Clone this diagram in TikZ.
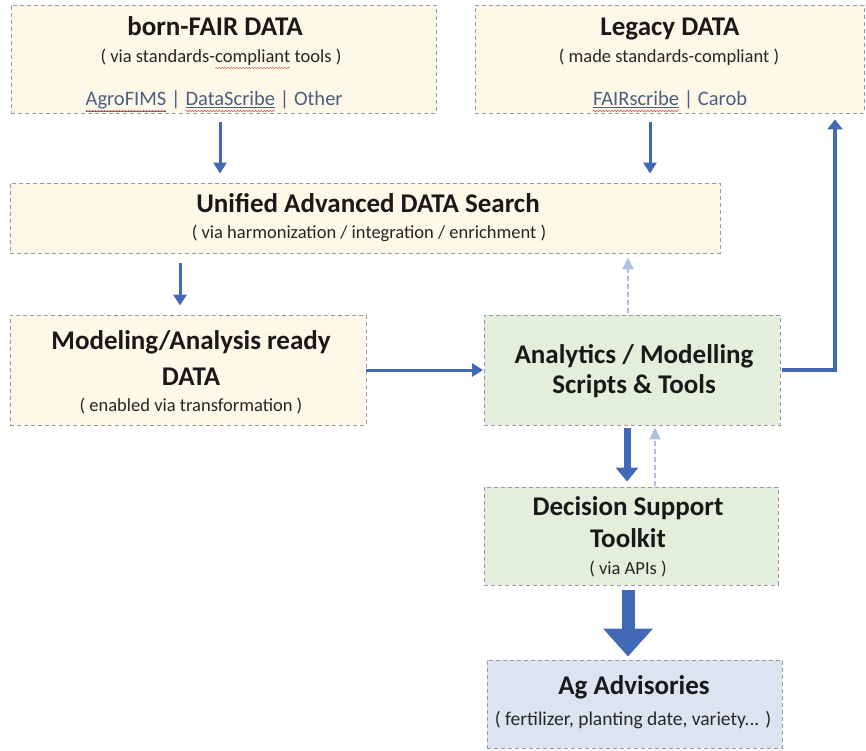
\documentclass[tikz,border=0pt]{standalone}
\usepackage{fontspec}
\setmainfont{Carlito}
\usetikzlibrary{arrows.meta,decorations.pathmorphing}
\definecolor{beige}{HTML}{FEF8E8}
\definecolor{greenbox}{HTML}{E3EFDA}
\definecolor{bluebox}{HTML}{DCE4F2}
\definecolor{bordergray}{HTML}{9A9A9A}
\definecolor{arrowblue}{HTML}{4169B8}
\definecolor{lightarrow}{HTML}{AFC0E0}
\definecolor{linkcol}{HTML}{4A5F82}
\definecolor{spellred}{HTML}{D9534F}
\newcommand\spellwave[1]{\tikz[baseline=(w.base)]{\node[inner sep=0pt, outer sep=0pt](w){#1};\draw[spellred, line width=0.5pt, decorate, decoration={snake, amplitude=0.7pt, segment length=3pt}] ([yshift=-5pt]w.base west) -- ([yshift=-5pt]w.base east);}}
\newcommand\linkword[1]{\spellwave{\underline{#1}}}
\tikzset{
  boxbase/.style={draw=bordergray, dash pattern=on 4pt off 3pt, line width=0.9pt, inner sep=0pt},
  beigebox/.style={boxbase, fill=beige},
  greenbx/.style={boxbase, fill=greenbox},
  bluebx/.style={boxbase, fill=bluebox},
  titletext/.style={font=\bfseries\fontsize{27}{30}\selectfont, text=black!90, inner sep=0pt, anchor=base},
  subtext/.style={font=\fontsize{18.5}{21}\selectfont, text=black!85, inner sep=0pt, anchor=base},
  linktext/.style={font=\fontsize{20.5}{23}\selectfont, text=linkcol, inner sep=0pt, anchor=base},
  flow/.style={draw=arrowblue, line width=3pt, -{Triangle[width=13pt,length=11pt]}},
  back/.style={draw=lightarrow, line width=1.8pt, dash pattern=on 5pt off 3pt, -{Triangle[width=11pt,length=12pt]}},
  thickflow/.style={draw=arrowblue, line width=7pt, -{Triangle[width=22pt,length=14pt]}},
  hugeflow/.style={draw=arrowblue, line width=13pt, -{Triangle[width=48pt,length=28pt]}},
}
\begin{document}
\begin{tikzpicture}[x=1pt,y=-1pt]
\useasboundingbox (0,0) rectangle (866,751);
% boxes
\node[beigebox, minimum width=425pt, minimum height=108pt] (fair) at (223.5,59) {};
\node[beigebox, minimum width=389pt, minimum height=108pt] (legacy) at (669.5,59) {};
\node[beigebox, minimum width=710pt, minimum height=70pt] (unified) at (365,218) {};
\node[beigebox, minimum width=356pt, minimum height=110pt] (model) at (188,370) {};
\node[greenbx, minimum width=296pt, minimum height=110pt] (analytics) at (632,370) {};
\node[greenbx, minimum width=294pt, minimum height=98pt] (decision) at (631,536) {};
\node[bluebx, minimum width=295pt, minimum height=88pt] (ag) at (634.5,704) {};
% texts
\node[titletext] (fairT) at (215,36) {born-FAIR DATA};
\node[subtext] (fairS) at (221,63) {( via standards-\spellwave{compliant} tools )};
\node[linktext] (fairL) at (214,106) {\linkword{AgroFIMS} | \linkword{DataScribe} | Other};
\node[titletext] (legT) at (670,36) {Legacy DATA};
\node[subtext] (legS) at (669,63) {( made standards-compliant )};
\node[linktext] (legL) at (670,106) {\linkword{FAIRscribe} | Carob};
\node[titletext] (uniT) at (368,213) {Unified Advanced DATA Search};
\node[subtext] (uniS) at (369,238) {( via harmonization / integration / enrichment )};
\node[titletext] (modT1) at (191,349) {Modeling/Analysis ready};
\node[titletext] (modT2) at (191,385) {DATA};
\node[subtext] (modS) at (191,411) {( enabled via transformation )};
\node[titletext] (anaT1) at (634,363) {Analytics / Modelling};
\node[titletext] (anaT2) at (634,393) {Scripts \& Tools};
\node[titletext] (decT1) at (628,515) {Decision Support};
\node[titletext] (decT2) at (628,547) {Toolkit};
\node[subtext] (decS) at (628,574) {( via APIs )};
\node[titletext] (agT) at (634,694) {Ag Advisories};
\node[subtext, font=\fontsize{19.5}{22}\selectfont] (agS) at (633,725) {( fertilizer, planting date, variety... )};
% connectors
\coordinate (c1) at (835,370);
\draw[flow, shorten <=9pt, shorten >=9pt] (fair.south -| 220,0) -- (unified.north -| 220,0);
\draw[flow, shorten <=9pt, shorten >=9pt] (legacy.south -| 650,0) -- (unified.north -| 650,0);
\draw[flow, shorten <=10pt, shorten >=9pt] (unified.south -| 180,0) -- (model.north -| 180,0);
\draw[back, shorten <=2pt, shorten >=4pt] (analytics.north -| 628,0) -- (unified.south -| 628,0);
\draw[flow, shorten >=0.5pt] (model.east |- 0,370) -- (analytics.west |- 0,370);
\draw[draw=arrowblue, line width=4.5pt, -{Triangle[width=15pt,length=10pt]}, shorten <=2pt, shorten >=6pt] (analytics.east |- 0,370) -- (c1) -- (c1 |- legacy.south);
\draw[thickflow, shorten <=3pt, shorten >=5pt] (analytics.south -| 627,0) -- (decision.north -| 627,0);
\draw[back, shorten <=1pt, shorten >=2pt] (decision.north -| 655,0) -- (analytics.south -| 655,0);
\draw[hugeflow, shorten <=5pt, shorten >=3pt] (decision.south -| 628,0) -- (ag.north -| 628,0);
\end{tikzpicture}
\end{document}
